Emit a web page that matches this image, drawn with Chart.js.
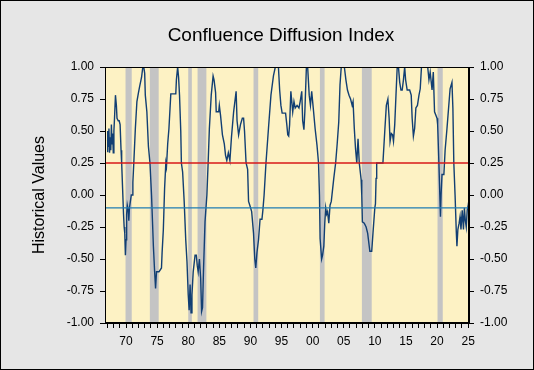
<!DOCTYPE html>
<html>
<head>
<meta charset="utf-8">
<script src="https://cdn.jsdelivr.net/npm/chart.js@4.4.1/dist/chart.umd.min.js"></script>
<style>
  html, body { margin: 0; padding: 0; background: #E6E6E6; }
  canvas { display: block; }
</style>
</head>
<body>
<canvas id="c" width="534" height="370"></canvas>
<script>
// ---- data (decimal years, index values) ----
const dates = [
  1966.95,1967.05,1967.15,1967.25,1967.35,1967.45,1967.55,1967.65,1967.75,1967.85,1967.95,1968.05,1968.15,1968.3,1968.45,1968.55,1968.75,1968.9,
  1969.05,1969.2,1969.3,1969.45,1969.6,1969.7,1969.8,1969.9,1970.0,1970.1,1970.2,1970.35,1970.45,1970.55,1970.7,1970.85,1971.0,1971.1,1971.25,1971.5,1971.75,
  1972.0,1972.2,1972.5,1972.7,1972.85,1973.0,1973.1,1973.35,1973.6,1973.85,1974.1,1974.4,1974.6,1974.75,1974.9,1975.3,1975.7,1975.8,1976.0,1976.2,1976.4,
  1976.5,1976.7,1976.9,1977.2,1978.0,1978.1,1978.3,1978.45,1978.6,1978.8,1978.9,1979.1,1979.35,1979.6,1979.8,1980.0,1980.15,1980.3,1980.45,1980.6,1980.8,
  1981.1,1981.3,1981.45,1981.6,1981.8,1982.0,1982.15,1982.3,1982.45,1982.7,1983.0,1983.2,1983.4,1983.7,1984.0,1984.15,1984.4,1984.5,1984.9,1985.0,1985.2,
  1985.5,1985.8,1986.0,1986.2,1986.45,1986.7,1986.95,1987.3,1987.55,1987.7,1987.85,1988.1,1988.4,1988.7,1988.9,1989.05,1989.3,1989.55,1989.7,1989.9,1990.2,
  1990.5,1990.7,1990.86,1991.05,1991.3,1991.55,1991.85,1992.0,1992.2,1992.5,1992.9,1993.3,1993.7,1994.0,1994.5,1994.7,1994.9,1995.1,1995.65,1995.85,1996.0,
  1996.15,1996.3,1996.5,1996.8,1997.0,1997.2,1997.5,1997.8,1998.0,1998.25,1998.4,1998.6,1998.75,1999.0,1999.2,1999.45,1999.65,1999.85,2000.1,2000.4,2000.7,
  2000.95,2001.1,2001.2,2001.45,2001.6,2001.8,2001.95,2002.1,2002.25,2002.4,2002.6,2002.8,2003.0,2003.4,2003.7,2003.95,2004.2,2004.4,2004.6,2005.1,2005.35,
  2005.6,2005.85,2006.1,2006.35,2006.5,2006.7,2006.9,2007.1,2007.3,2007.5,2007.8,2007.9,2008.0,2008.3,2008.6,2008.85,2009.2,2009.5,2009.7,2010.0,2010.1,
  2010.2,2010.3,2011.3,2011.6,2011.85,2012.1,2012.3,2012.45,2012.65,2012.85,2013.0,2013.2,2013.4,2013.6,2013.8,2014.0,2014.2,2014.4,2014.6,2014.8,2014.95,
  2015.2,2015.6,2015.85,2016.0,2016.2,2016.4,2016.6,2016.85,2017.1,2017.3,2017.5,2018.2,2018.5,2018.7,2018.9,2019.2,2019.4,2019.6,2020.0,2020.1,2020.3,
  2020.45,2020.55,2020.65,2020.8,2021.1,2021.3,2021.6,2022.1,2022.4,2022.55,2022.7,2022.9,2023.1,2023.2,2023.35,2023.55,2023.7,2023.85,2024.05,2024.25,
  2024.4,2024.55,2024.7,2024.85,2025.05,2025.15
];
const values = [
  0.34,0.50,0.38,0.52,0.33,0.45,0.35,0.55,0.40,0.48,0.33,0.50,0.60,0.78,0.70,0.60,0.58,0.58,
  0.55,0.35,0.25,0.05,-0.15,-0.25,-0.30,-0.47,-0.35,-0.15,-0.08,-0.12,-0.20,-0.10,-0.05,0.00,0.00,0.10,0.25,0.52,0.73,
  0.80,0.85,0.92,1.00,1.00,0.95,0.78,0.65,0.38,0.25,0.00,-0.40,-0.60,-0.73,-0.60,-0.60,-0.57,-0.45,-0.27,0.05,0.25,
  0.22,0.40,0.52,0.79,0.79,0.90,1.00,0.92,0.78,0.50,0.25,0.18,-0.05,-0.35,-0.52,-0.78,-0.90,-0.70,-0.92,-0.78,-0.60,
  -0.47,-0.47,-0.55,-0.60,-0.50,-0.65,-0.91,-0.88,-0.60,-0.21,0.00,0.25,0.52,0.78,0.93,0.90,0.80,0.65,0.65,0.70,0.62,
  0.47,0.40,0.31,0.27,0.33,0.27,0.45,0.65,0.75,0.81,0.58,0.47,0.55,0.60,0.60,0.50,0.25,0.20,-0.05,-0.08,-0.13,
  -0.30,-0.50,-0.57,-0.45,-0.35,-0.19,-0.19,-0.12,0.00,0.25,0.52,0.78,0.93,1.00,1.00,0.82,0.70,0.64,0.64,0.55,0.47,
  0.46,0.55,0.81,0.65,0.73,0.68,0.70,0.68,0.73,0.81,0.58,0.51,0.65,1.00,1.00,0.78,0.70,0.81,0.68,0.52,0.39,
  0.25,0.00,-0.34,-0.50,-0.47,-0.40,-0.22,-0.10,-0.15,-0.13,-0.22,-0.08,-0.05,0.13,0.25,0.40,0.57,0.86,1.00,1.00,0.90,
  0.82,0.78,0.75,0.70,0.73,0.52,0.36,0.25,0.44,0.25,0.12,0.00,-0.21,-0.22,-0.25,-0.30,-0.44,-0.44,-0.30,-0.10,-0.07,
  0.13,0.25,0.25,0.50,0.70,0.75,0.60,0.42,0.48,0.47,0.42,0.55,0.78,1.00,1.00,0.88,0.82,0.82,0.90,1.00,0.90,
  0.82,0.82,0.78,0.60,0.46,0.52,0.68,0.70,0.78,0.83,1.00,1.00,1.00,0.90,0.96,0.82,0.96,0.65,0.60,0.55,0.25,
  0.00,-0.17,0.00,0.16,0.16,0.35,0.52,0.83,0.88,0.68,0.25,0.00,-0.29,-0.40,-0.27,-0.22,-0.17,-0.27,-0.12,-0.27,
  -0.10,-0.20,-0.25,-0.12,-0.07,-0.02
];
const recessionStart = [1969.92, 1973.83, 1980.0, 1981.5, 1990.5, 2001.17, 2007.92, 2020.08];
const recessionEnd   = [1970.92, 1975.25, 1980.58, 1982.92, 1991.25, 2001.92, 2009.5, 2020.92];
const redLevel = 0.25;
const blueLevel = -0.10;
const yTickValues = [-1.00, -0.75, -0.50, -0.25, 0.00, 0.25, 0.50, 0.75, 1.00];
const xTickYears = [];
for (let y = 1967; y <= 2025; y++) xTickYears.push(y);
const xMin = 1966.62, xMax = 2025.14;

Chart.defaults.font.family = "'Liberation Sans', Arial, sans-serif";
Chart.defaults.color = '#000';

const decorPlugin = {
  id: 'decor',
  beforeDraw(chart) {
    const ctx = chart.ctx;
    ctx.save();
    ctx.fillStyle = '#E6E6E6';
    ctx.fillRect(0, 0, chart.width, chart.height);
    const a = chart.chartArea;
    ctx.fillStyle = '#FDF2C4';
    ctx.fillRect(a.left, a.top, a.right - a.left, a.bottom - a.top);
    ctx.restore();
  },
  beforeDatasetsDraw(chart) {
    const ctx = chart.ctx, a = chart.chartArea, xs = chart.scales.x;
    ctx.save();
    ctx.beginPath();
    ctx.rect(a.left, a.top, a.right - a.left, a.bottom - a.top);
    ctx.clip();
    ctx.fillStyle = '#C4C4C4';
    for (let i = 0; i < recessionStart.length; i++) {
      const x0 = xs.getPixelForValue(recessionStart[i]);
      const x1 = xs.getPixelForValue(recessionEnd[i]);
      ctx.fillRect(x0, a.top, x1 - x0, a.bottom - a.top);
    }
    ctx.restore();
  },
  afterDraw(chart) {
    const ctx = chart.ctx, a = chart.chartArea;
    ctx.save();
    ctx.strokeStyle = '#000';
    ctx.lineWidth = 1;
    ctx.strokeRect(Math.round(a.left) + 0.5, Math.round(a.top) + 0.5,
                   Math.round(a.right - a.left) - 1, Math.round(a.bottom - a.top) - 1);
    ctx.strokeRect(0.5, 0.5, chart.width - 1, chart.height - 1);
    ctx.restore();
  }
};

const yTickCfg = {
  color: '#000',
  font: { size: 12 },
  padding: 6,
  callback: v => Number(v).toFixed(2)
};

new Chart(document.getElementById('c'), {
  type: 'line',
  data: {
    datasets: [
      {
        label: 'Index',
        data: dates.map((d, i) => ({ x: d, y: values[i] })),
        borderColor: '#123F73',
        backgroundColor: '#123F73',
        borderWidth: 1.4,
        pointRadius: 0,
        tension: 0,
        order: 2
      },
      {
        label: 'Upper',
        data: [{ x: xMin, y: redLevel }, { x: xMax, y: redLevel }],
        borderColor: 'rgb(215, 25, 25)',
        backgroundColor: 'rgb(215, 25, 25)',
        borderWidth: 1.6,
        pointRadius: 0,
        order: 1
      },
      {
        label: 'Lower',
        data: [{ x: xMin, y: blueLevel }, { x: xMax, y: blueLevel }],
        borderColor: '#1F7DB3',
        backgroundColor: '#1F7DB3',
        borderWidth: 1.2,
        pointRadius: 0,
        order: 1
      }
    ]
  },
  options: {
    responsive: false,
    animation: false,
    layout: { padding: { left: 28, right: 0, top: 0, bottom: 0 } },
    plugins: {
      legend: { display: false },
      tooltip: { enabled: false },
      title: {
        display: true,
        text: 'Confluence Diffusion Index',
        color: '#000',
        font: { size: 19, weight: 'normal' },
        padding: { top: 24, bottom: 20.2 }
      }
    },
    scales: {
      x: {
        type: 'linear',
        min: xMin,
        max: xMax,
        afterBuildTicks: s => { s.ticks = xTickYears.map(v => ({ value: v })); },
        afterFit: s => { s.height = 47; },
        ticks: {
          autoSkip: false,
          maxRotation: 0,
          color: '#000',
          font: { size: 12 },
          padding: 6,
          callback: v => (Math.round(v) % 5 === 0 ? String(Math.round(v) % 100).padStart(2, '0') : '')
        },
        grid: { drawOnChartArea: false, drawTicks: true, tickLength: 5, color: '#000' },
        border: { display: true, color: '#000' }
      },
      y: {
        position: 'left',
        min: -1,
        max: 1,
        afterBuildTicks: s => { s.ticks = yTickValues.map(v => ({ value: v })); },
        afterFit: s => { s.width = 77; },
        ticks: yTickCfg,
        grid: { drawOnChartArea: false, drawTicks: true, tickLength: 5, color: '#000' },
        border: { display: true, color: '#000' },
        title: {
          display: true,
          text: 'Historical Values',
          color: '#000',
          font: { size: 16 },
          padding: { top: 2, bottom: 0 }
        }
      },
      y2: {
        position: 'right',
        min: -1,
        max: 1,
        afterBuildTicks: s => { s.ticks = yTickValues.map(v => ({ value: v })); },
        afterFit: s => { s.width = 65; },
        ticks: yTickCfg,
        grid: { drawOnChartArea: false, drawTicks: true, tickLength: 5, color: '#000' },
        border: { display: true, color: '#000' }
      }
    }
  },
  plugins: [decorPlugin]
});
</script>
</body>
</html>
